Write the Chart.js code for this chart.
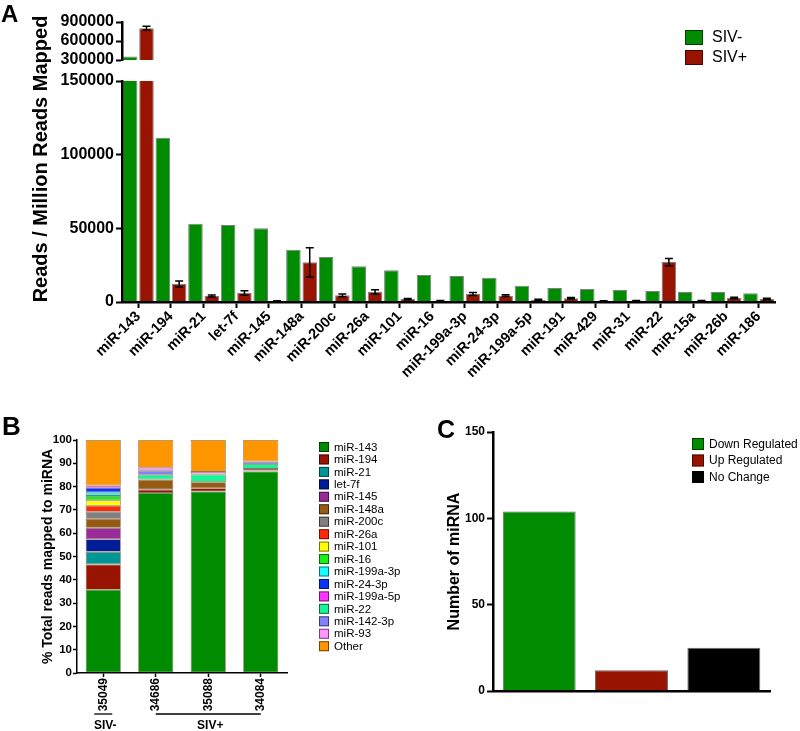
<!DOCTYPE html>
<html><head><meta charset="utf-8">
<script src="https://cdn.jsdelivr.net/npm/chart.js@4.4.1/dist/chart.umd.min.js"></script>
<style>
html,body{margin:0;padding:0;background:#fff;}
#wrap{position:relative;width:800px;height:731px;overflow:hidden;background:#fff;font-family:'Liberation Sans',Arial,sans-serif;}
canvas{position:absolute;}
.plbl{position:absolute;font-weight:bold;line-height:1;color:#000;white-space:nowrap;}
</style></head><body>
<div id="wrap">
<canvas id="cA2" width="800" height="310" style="left:0;top:70px"></canvas>
<canvas id="cA1" width="800" height="70" style="left:0;top:0"></canvas>
<canvas id="cB" width="410" height="355" style="left:0;top:376px"></canvas>
<canvas id="cC" width="390" height="355" style="left:410px;top:376px"></canvas>
<div class="plbl" style="left:1px;top:2px;font-size:24px">A</div>
<div class="plbl" style="left:2px;top:413px;font-size:26px">B</div>
<div class="plbl" style="left:437px;top:417px;font-size:25px">C</div>
<div class="plbl" style="left:-120px;top:147px;width:320px;height:24px;line-height:24px;text-align:center;font-size:20px;transform:rotate(-90deg)">Reads / Million Reads Mapped</div>
</div>
<script>
// ---------- Panel A data ----------
const MIRNA_A = ['miR-143','miR-194','miR-21','let-7f','miR-145','miR-148a','miR-200c','miR-26a','miR-101','miR-16','miR-199a-3p','miR-24-3p','miR-199a-5p','miR-191','miR-429','miR-31','miR-22','miR-15a','miR-26b','miR-186'];
const SIV_NEG = [356000,111500,53100,52300,50000,35500,30500,24200,21500,18300,17600,16500,11100,9500,8800,8100,7500,6800,6800,5900];
const SIV_POS = [802000,12200,4100,6100,700,26900,4500,6800,2000,900,5400,4300,1500,2500,700,800,27100,900,2700,2000];
const SIV_POS_SEM = [30000,2000,700,1500,200,10000,1000,1500,400,200,1000,600,300,500,200,200,2500,200,500,500];
const A_SERIES = ['SIV-','SIV+'];
const A_UPPER_TICKS = [300000,600000,900000];
const A_LOWER_TICKS = [0,50000,100000,150000];

// ---------- Panel B data ----------
const ANIMALS = ['35049','34686','35088','34084'];
const GROUP_NAMES = ['SIV-','SIV+'];
const GROUP_FIRST = [0,1];
const GROUP_LAST = [0,3];
const MIRNA_B = ['miR-143','miR-194','miR-21','let-7f','miR-145','miR-148a','miR-200c','miR-26a','miR-101','miR-16','miR-199a-3p','miR-24-3p','miR-199a-5p','miR-22','miR-142-3p','miR-93','Other'];
const PCT_35049 = [35.7,10.9,5.4,5.4,4.9,3.9,3.0,2.6,2.3,1.9,1.6,1.9,1.0,0,0,0,19.5];
const PCT_34686 = [77.3,1.4,0,0,0,4.3,0,0,0,0,0,0,0,2.1,1.7,1.3,11.9];
const PCT_35088 = [77.9,1.4,0,0,0,2.6,0,0,0,0,0,0,0,3.3,0,1.1,13.7];
const PCT_34084 = [86.5,0.4,0,0,0,0.7,0,0,0,0,0,0,0,2.1,1.1,0,9.2];
const B_TICKS = [0,10,20,30,40,50,60,70,80,90,100];

// ---------- Panel C data ----------
const REG_CATS = ['Down Regulated','Up Regulated','No Change'];
const REG_COUNTS = [104,12,25];
const C_TICKS = [0,50,100,150];

// ---------- styles ----------
const FONT = "'Liberation Sans', Arial, sans-serif";
Chart.defaults.font.family = FONT;
Chart.defaults.color = '#000';
const GREEN = '#008C00', DRED = '#981400';
const A_COLORS = [GREEN, DRED];
const B_COLORS = ['#008C00','#981400','#009696','#001C96','#992B99','#965A12','#808080','#FF2A0A','#FFFF00','#19F019','#19FFFF','#0A32FF','#FF32FF','#19F596','#8282FF','#FF96FF','#FF9600'];
const C_COLORS = ['#008C00','#981400','#000000'];

// ---------- plugins ----------
const boxLegend = {
  id: 'boxLegend',
  afterDraw(chart, args, o) {
    if (!o || !o.mode) return;
    let items;
    if (o.mode === 'data') {
      const ds = chart.data.datasets[0];
      items = chart.data.labels.map((l, i) => ({text: l, color: ds.backgroundColor[i]}));
    } else {
      items = chart.data.datasets.map(d => ({text: d.label, color: d.backgroundColor}));
    }
    const ctx = chart.ctx;
    ctx.save();
    ctx.font = o.font;
    ctx.textBaseline = 'middle';
    ctx.textAlign = 'left';
    items.forEach((it, i) => {
      const cy = o.y + i * o.pitch;
      ctx.fillStyle = it.color;
      ctx.fillRect(o.x, cy - o.bh / 2, o.bw, o.bh);
      ctx.lineWidth = 1;
      ctx.strokeStyle = 'rgba(0,0,0,0.55)';
      ctx.strokeRect(o.x + 0.5, cy - o.bh / 2 + 0.5, o.bw - 1, o.bh - 1);
      ctx.fillStyle = '#000';
      ctx.fillText(it.text, o.x + o.bw + o.gap, cy + 0.5);
    });
    ctx.restore();
  }
};

const errorBars = {
  id: 'errorBars',
  afterDatasetsDraw(chart, args, o) {
    const ctx = chart.ctx, ys = chart.scales.y, ca = chart.chartArea;
    ctx.save();
    ctx.beginPath();
    ctx.rect(ca.left, ca.top - 1, ca.right - ca.left, ca.bottom - ca.top + 1);
    ctx.clip();
    ctx.strokeStyle = '#000';
    ctx.lineWidth = 1.5;
    chart.data.datasets.forEach((ds, di) => {
      if (!ds.errors) return;
      const meta = chart.getDatasetMeta(di);
      meta.data.forEach((bar, i) => {
        const v = ds.data[i], e = ds.errors[i];
        if (!e) return;
        const x = bar.x, c = 4;
        const y1 = ys.getPixelForValue(v + e), y0 = ys.getPixelForValue(v - e);
        ctx.beginPath();
        ctx.moveTo(x, y0); ctx.lineTo(x, y1);
        ctx.moveTo(x - c, y1); ctx.lineTo(x + c, y1);
        ctx.moveTo(x - c, y0); ctx.lineTo(x + c, y0);
        ctx.stroke();
      });
    });
    ctx.restore();
  }
};

const groupLabels = {
  id: 'groupLabels',
  afterDraw(chart, args, o) {
    const xs = chart.scales.x, ctx = chart.ctx;
    ctx.save();
    ctx.strokeStyle = '#000'; ctx.lineWidth = 1.3; ctx.fillStyle = '#000';
    ctx.font = 'bold 12px ' + FONT; ctx.textAlign = 'center'; ctx.textBaseline = 'alphabetic';
    GROUP_NAMES.forEach((g, i) => {
      let x0 = xs.getPixelForValue(GROUP_FIRST[i]), x1 = xs.getPixelForValue(GROUP_LAST[i]);
      if (GROUP_FIRST[i] === GROUP_LAST[i]) { x0 -= o.halfSpan; x1 += o.halfSpan; }
      ctx.beginPath(); ctx.moveTo(x0, o.lineY); ctx.lineTo(x1, o.lineY); ctx.stroke();
      ctx.fillText(g, (x0 + x1) / 2 + 2, o.textY);
    });
    ctx.restore();
  }
};

const ticksFrom = arr => (s => { s.ticks = arr.map(v => ({value: v})); });

// ---------- Panel A ----------
function aDatasets() {
  return A_SERIES.map((name, k) => ({
    label: name,
    data: k === 0 ? SIV_NEG : SIV_POS,
    errors: k === 0 ? null : SIV_POS_SEM,
    backgroundColor: A_COLORS[k],
    borderColor: 'rgba(0,0,0,0.5)',
    borderWidth: 1,
    barPercentage: 0.89,
    categoryPercentage: 1.0,
    clip: 0
  }));
}
function aYAxis(ticksArr) {
  return {
    min: ticksArr[0], max: ticksArr[ticksArr.length - 1],
    afterBuildTicks: ticksFrom(ticksArr),
    afterFit(s) { s.width = 122; },
    grid: {drawOnChartArea: false, drawTicks: true, tickLength: 6, tickWidth: 2, tickColor: '#000'},
    border: {display: true, color: '#000', width: 2.5, z: 1},
    ticks: {autoSkip: false, color: '#000', padding: 2, font: {weight: 'bold', size: 16, lineHeight: 1}, callback: v => String(v)}
  };
}

new Chart(document.getElementById('cA1'), {
  type: 'bar',
  data: {labels: MIRNA_A, datasets: aDatasets()},
  options: {
    responsive: false, animation: false,
    layout: {padding: {top: 22, bottom: 9, left: 0, right: 25}},
    plugins: {legend: {display: false}, tooltip: {enabled: false},
      boxLegend: {mode: 'datasets', x: 685, y: 37.5, pitch: 20, bw: 18, bh: 15, gap: 9, font: '16px ' + FONT}},
    scales: {
      x: {display: false},
      y: aYAxis(A_UPPER_TICKS)
    }
  },
  plugins: [errorBars, boxLegend]
});

new Chart(document.getElementById('cA2'), {
  type: 'bar',
  data: {labels: MIRNA_A, datasets: aDatasets()},
  options: {
    responsive: false, animation: false,
    layout: {padding: {top: 11, bottom: 0, left: 0, right: 25}},
    plugins: {legend: {display: false}, tooltip: {enabled: false}},
    scales: {
      x: {
        afterFit(s) { s.height = 78; },
        grid: {offset: false, drawOnChartArea: false, drawTicks: true, tickLength: 6, tickWidth: 2, tickColor: '#000'},
        border: {display: true, color: '#000', width: 2.5, z: 1},
        ticks: {autoSkip: false, minRotation: 45, maxRotation: 45, padding: 0, color: '#000', font: {weight: 'bold', size: 14.5}}
      },
      y: aYAxis(A_LOWER_TICKS)
    }
  },
  plugins: [errorBars]
});

// ---------- Panel B ----------
const B_ANIMAL_ROWS = [PCT_35049, PCT_34686, PCT_35088, PCT_34084];
new Chart(document.getElementById('cB'), {
  type: 'bar',
  data: {
    labels: ANIMALS,
    datasets: MIRNA_B.map((m, i) => ({
      label: m,
      data: B_ANIMAL_ROWS.map(row => row[i] || null),
      backgroundColor: B_COLORS[i],
      borderColor: 'rgba(90,60,30,0.7)',
      borderWidth: 0.8,
      borderSkipped: false,
      barPercentage: 0.67,
      categoryPercentage: 1.0
    }))
  },
  options: {
    responsive: false, animation: false,
    layout: {padding: {top: 64, bottom: 18, left: 0, right: 123}},
    plugins: {legend: {display: false}, tooltip: {enabled: false},
      boxLegend: {mode: 'datasets', x: 319, y: 71, pitch: 12.45, bw: 10, bh: 10, gap: 5, font: '11.5px ' + FONT},
      groupLabels: {halfSpan: 9, lineY: 338, textY: 353}},
    scales: {
      x: {
        stacked: true,
        afterFit(s) { s.height = 40; },
        grid: {offset: false, drawOnChartArea: false, drawTicks: true, tickLength: 4, tickWidth: 1.5, tickColor: '#000'},
        border: {display: true, color: '#000', width: 1.5, z: 1},
        ticks: {autoSkip: false, minRotation: 90, maxRotation: 90, padding: 1, color: '#000', font: {weight: 'bold', size: 12}}
      },
      y: {
        stacked: true, min: 0, max: 100,
        afterBuildTicks: ticksFrom(B_TICKS),
        afterFit(s) { s.width = 77; },
        grid: {drawOnChartArea: false, drawTicks: true, tickLength: 4, tickWidth: 1.5, tickColor: '#000'},
        border: {display: true, color: '#000', width: 1.5, z: 1},
        ticks: {autoSkip: false, color: '#000', padding: 1, font: {weight: 'bold', size: 11.5}},
        title: {display: true, text: '% Total reads mapped to miRNA', color: '#000', font: {weight: 'bold', size: 14}, padding: {top: 40, bottom: 0}}
      }
    }
  },
  plugins: [boxLegend, groupLabels]
});

// ---------- Panel C ----------
new Chart(document.getElementById('cC'), {
  type: 'bar',
  data: {
    labels: REG_CATS,
    datasets: [{
      label: 'Number of miRNA',
      data: REG_COUNTS,
      backgroundColor: C_COLORS,
      borderColor: 'rgba(0,0,0,0.6)',
      borderWidth: 1,
      barPercentage: 0.79,
      categoryPercentage: 1.0
    }]
  },
  options: {
    responsive: false, animation: false,
    layout: {padding: {top: 56, bottom: 0, left: 0, right: 30}},
    plugins: {legend: {display: false}, tooltip: {enabled: false},
      boxLegend: {mode: 'data', x: 282, y: 68, pitch: 16.5, bw: 12, bh: 12, gap: 5, font: '12px ' + FONT}},
    scales: {
      x: {
        afterFit(s) { s.height = 40; },
        grid: {display: false},
        border: {display: true, color: '#000', width: 2.5, z: 1},
        ticks: {display: false}
      },
      y: {
        min: 0, max: 150,
        afterBuildTicks: ticksFrom(C_TICKS),
        afterFit(s) { s.width = 83; },
        grid: {drawOnChartArea: false, drawTicks: true, tickLength: 6, tickWidth: 2, tickColor: '#000'},
        border: {display: true, color: '#000', width: 2.5, z: 1},
        ticks: {autoSkip: false, color: '#000', padding: 2, font: {weight: 'bold', size: 12}},
        title: {display: true, text: 'Number of miRNA', color: '#000', font: {weight: 'bold', size: 16}, padding: {top: 35, bottom: 0}}
      }
    }
  },
  plugins: [boxLegend]
});
</script>
</body></html>
